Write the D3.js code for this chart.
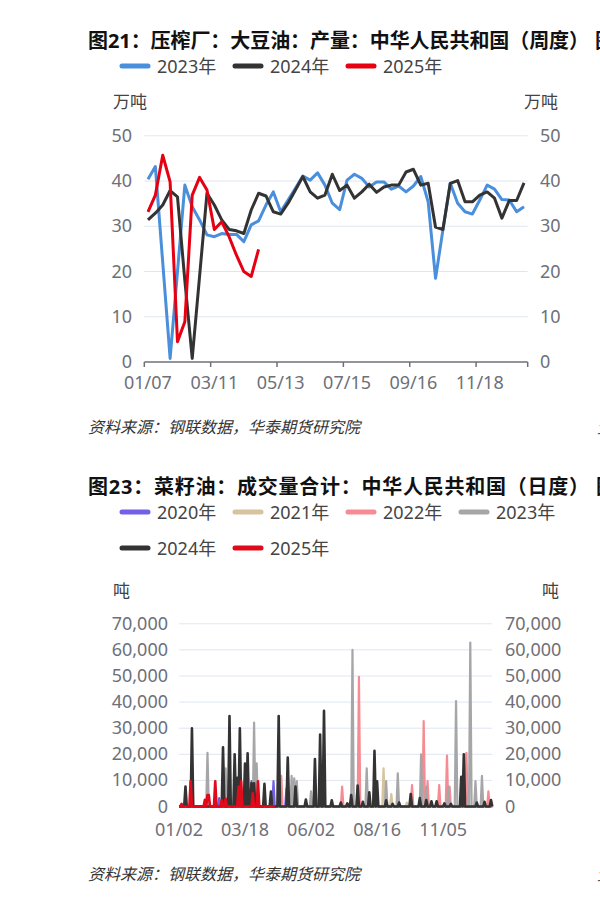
<!DOCTYPE html>
<html><head><meta charset="utf-8">
<script src="https://cdn.jsdelivr.net/npm/d3@7"></script>
<style>
body{margin:0;background:#fff;}
svg{display:block;font-family:"Noto Sans","Noto Sans CJK SC",sans-serif;}
</style>
</head><body>
<svg id="c" width="600" height="924"></svg>
<script>
// ---------- Chart 1 data (weekly, 万吨) ----------
const weeks = ["01/07","01/14","01/21","01/28","02/04","02/11","02/18","02/25","03/04","03/11",
"03/18","03/25","04/01","04/08","04/15","04/22","04/29","05/06","05/13","05/20",
"05/27","06/03","06/10","06/17","06/24","07/01","07/08","07/15","07/22","07/29",
"08/05","08/12","08/19","08/26","09/02","09/09","09/16","09/23","09/30","10/07",
"10/14","10/21","10/28","11/04","11/11","11/18","11/25","12/02","12/09","12/16",
"12/23","12/30"];
const soy2023 = [40.4,43.2,22,0.8,20,39.1,34.3,31.4,28.1,27.7,28.4,28.2,28.2,26.6,30.3,31.2,34.7,37.6,33.2,35.8,38.4,41.1,40.2,41.8,39.1,35.1,33.7,40.2,41.5,40.6,38.7,39.8,39.8,38.2,38.9,37.6,38.9,41.0,35.4,18.5,29.2,39.5,35.1,33.2,32.7,35.8,39.1,38.2,35.9,35.8,33.2,34.3];
const soy2024 = [31.4,32.9,34.7,37.9,36.5,18,0.8,19,37.3,34.7,31.4,29.3,29.0,28.4,33.6,37.3,36.7,33.2,32.7,35.1,38.0,41.0,37.6,36.2,36.9,41.5,37.9,39.1,36.2,37.6,39.3,37.5,38.7,39.1,39.1,42.0,42.6,39.1,39.5,29.8,29.3,39.5,40.1,35.4,35.4,36.9,37.6,36.2,31.8,35.7,35.7,39.6];
const soy2025 = [33.2,36.9,45.7,39.8,4.5,8.9,36.9,40.8,38.0,29.3,31.0,27.7,23.6,20.0,18.9,24.9];
const soyYTicks = [0,10,20,30,40,50];
const soyXLabelIdx = [0,9,18,27,36,45];
const soyNames = ["2023年","2024年","2025年"];
const soyColors = ["#4a8fdc","#333333","#e60012"];

// ---------- Chart 2 data (daily trading days, 吨) ----------
const rapeCount = 243;
const rapeXTickIdx = [0,51,102,153,204];
const rapeXLabels = ["01/02","03/18","06/02","08/16","11/05"];
const rapeYTicks = [0,10000,20000,30000,40000,50000,60000,70000];
const rape2020 = [[31,3200],[56,9700],[73,9700],[83,7000]];
const rape2021 = [[158,14600],[164,4800],[176,1500]];
const rape2022 = [[79,11700],[126,7600],[139,49700],[180,8200],[189,32700],[192,9700],[201,8200],[207,19500],[209,7600],[222,20600],[239,5800]];
const rape2023 = [[22,20600],[36,14600],[58,32100],[60,16500],[87,11700],[89,10800],[91,9700],[102,5800],[134,60000],[145,14600],[160,9700],[169,12700],[187,20000],[191,7600],[208,7600],[214,40400],[225,62800],[229,9700],[234,11700]];
const rape2024 = [[5,7600],[10,30000],[34,22700],[39,34700],[43,20000],[45,11000],[47,30000],[51,16500],[53,20400],[56,9000],[58,8900],[66,8700],[71,5700],[77,34700],[84,18800],[90,7600],[98,2700],[105,18200],[109,27600],[112,36700],[118,2400],[125,1500],[130,1200],[133,4400],[138,8000],[142,1800],[147,5400],[151,21300],[153,9700],[160,2400],[165,1000],[170,1500],[179,4800],[186,3200],[191,2500],[195,2000],[199,2000],[205,1200],[210,1000],[218,11400],[220,20000],[230,1500],[236,1800],[241,2500]];
const rape2025 = [[2,1000],[9,9700],[20,2600],[22,4400],[23,4400],[28,9700],[33,2400],[36,3000],[46,7600],[48,9700],[57,5100],[61,9700]];
const rape2025Len = 75;
const rapeNames = ["2020年","2021年","2022年","2023年","2024年","2025年"];
const rapeColors = ["#7360e6","#d7c39f","#f68b93","#a6a6a8","#333333","#e00a1a"];

const svg = d3.select("#c");
const axisColor = "#6e7079", gridColor = "#e0e6f1", labelColor = "#6e7079", textColor = "#444";

function legendItem(x, y, name, color){
  svg.append("line").attr("x1",x+2).attr("x2",x+28).attr("y1",y).attr("y2",y)
    .attr("stroke",color).attr("stroke-width",5).attr("stroke-linecap","round");
  svg.append("text").attr("x",x+37).attr("y",y).attr("dominant-baseline","central")
    .attr("font-size",18).attr("fill",textColor).text(name);
}
function title(y, txt){
  svg.append("text").attr("x",88).attr("y",y).attr("font-size",20).attr("font-weight","bold")
    .attr("fill","#111").attr("textLength",501).attr("lengthAdjust","spacing").text(txt);
}

// ============ Chart 1 ============
title(48, "图21：压榨厂：大豆油：产量：中华人民共和国（周度）");
svg.append("text").attr("x",595).attr("y",48).attr("font-size",20).attr("font-weight","bold")
  .attr("fill","#111").text("图22");
soyNames.forEach((n,i)=>legendItem(120+113*i, 66, n, soyColors[i]));
svg.append("text").attr("x",113).attr("y",101).attr("dominant-baseline","central").attr("font-size",17).attr("fill",textColor).text("万吨");
svg.append("text").attr("x",524).attr("y",101).attr("dominant-baseline","central").attr("font-size",17).attr("fill",textColor).text("万吨");

const x1 = d3.scaleBand().domain(weeks).range([144.3,527.7]);
const y1 = d3.scaleLinear().domain([0,50]).range([362,135.8]);
const g1 = svg.append("g");
soyYTicks.forEach(t=>{
  if(t>0) g1.append("line").attr("x1",144.3).attr("x2",527.7).attr("y1",y1(t)).attr("y2",y1(t)).attr("stroke",gridColor);
  g1.append("text").attr("x",132).attr("y",y1(t)-1).attr("text-anchor","end").attr("dominant-baseline","central").attr("font-size",18).attr("fill",labelColor).text(t);
  g1.append("text").attr("x",540).attr("y",y1(t)-1).attr("dominant-baseline","central").attr("font-size",18).attr("fill",labelColor).text(t);
});
g1.append("line").attr("x1",144.3).attr("x2",527.7).attr("y1",362).attr("y2",362).attr("stroke",axisColor).attr("stroke-width",1.5);
const tickXs = soyXLabelIdx.map(i=>x1(weeks[i])).concat([x1.range()[1]]);
tickXs.forEach(tx=>g1.append("line").attr("x1",tx).attr("x2",tx).attr("y1",362).attr("y2",367).attr("stroke",axisColor).attr("stroke-width",1.5));
soyXLabelIdx.forEach(i=>g1.append("text").attr("x",x1(weeks[i])+x1.bandwidth()/2).attr("y",382)
  .attr("text-anchor","middle").attr("dominant-baseline","central").attr("font-size",18).attr("fill",labelColor).text(weeks[i]));
const line1 = d3.line().x((d,i)=>x1(weeks[i])+x1.bandwidth()/2).y(d=>y1(d));
[soy2023,soy2024,soy2025].forEach((s,k)=>{
  g1.append("path").attr("d",line1(s)).attr("fill","none").attr("stroke",soyColors[k])
    .attr("stroke-width",3).attr("stroke-linejoin","round");
});
svg.append("text").attr("x",88).attr("y",433).attr("font-size",16).attr("font-style","italic").attr("fill","#333").text("资料来源：钢联数据，华泰期货研究院");
svg.append("text").attr("x",597).attr("y",433).attr("font-size",16).attr("font-style","italic").attr("fill","#333").text("资料");

// ============ Chart 2 ============
title(494, "图23：菜籽油：成交量合计：中华人民共和国（日度）");
svg.append("text").attr("x",596).attr("y",494).attr("font-size",20).attr("font-weight","bold")
  .attr("fill","#111").text("图24");
rapeNames.forEach((n,i)=>{
  const row = i<4?0:1, col = i<4?i:i-4;
  legendItem(120+113*col, row===0?512:548, n, rapeColors[i]);
});
svg.append("text").attr("x",113).attr("y",590).attr("dominant-baseline","central").attr("font-size",17).attr("fill",textColor).text("吨");
svg.append("text").attr("x",542).attr("y",590).attr("dominant-baseline","central").attr("font-size",17).attr("fill",textColor).text("吨");

const x2 = d3.scaleLinear().domain([0,rapeCount-1]).range([179,492.3]);
const y2 = d3.scaleLinear().domain([0,70000]).range([806.5,623.8]);
const g2 = svg.append("g");
const fmt = d3.format(",");
rapeYTicks.forEach(t=>{
  if(t>0) g2.append("line").attr("x1",179).attr("x2",492.3).attr("y1",y2(t)).attr("y2",y2(t)).attr("stroke",gridColor);
  g2.append("text").attr("x",168).attr("y",y2(t)-1).attr("text-anchor","end").attr("dominant-baseline","central").attr("font-size",18).attr("fill",labelColor).text(fmt(t));
  g2.append("text").attr("x",505).attr("y",y2(t)-1).attr("dominant-baseline","central").attr("font-size",18).attr("fill",labelColor).text(fmt(t));
});
g2.append("line").attr("x1",179).attr("x2",492.3).attr("y1",806.5).attr("y2",806.5).attr("stroke",axisColor).attr("stroke-width",1.5);
rapeXTickIdx.forEach((ix,k)=>g2.append("text").attr("x",x2(ix)).attr("y",829).attr("text-anchor","middle")
  .attr("dominant-baseline","central").attr("font-size",18).attr("fill",labelColor).text(rapeXLabels[k]));

function expand(spikes, len){
  const arr = new Array(len).fill(0);
  spikes.forEach(([i,v])=>{ if(i<len) arr[i]=v; });
  return arr;
}
const line2 = d3.line().x((d,i)=>x2(i)).y(d=>y2(d));
const rapeSeries = [rape2020,rape2021,rape2022,rape2023,rape2024,rape2025];
rapeSeries.forEach((s,k)=>{
  const len = k===5 ? rape2025Len : rapeCount;
  g2.append("path").attr("d",line2(expand(s,len))).attr("fill","none").attr("stroke",rapeColors[k])
    .attr("stroke-width",k>=4?2.6:2.2).attr("stroke-linejoin","round");
});
svg.append("text").attr("x",88).attr("y",880).attr("font-size",16).attr("font-style","italic").attr("fill","#333").text("资料来源：钢联数据，华泰期货研究院");
svg.append("text").attr("x",597).attr("y",880).attr("font-size",16).attr("font-style","italic").attr("fill","#333").text("资料");
</script>
</body></html>
